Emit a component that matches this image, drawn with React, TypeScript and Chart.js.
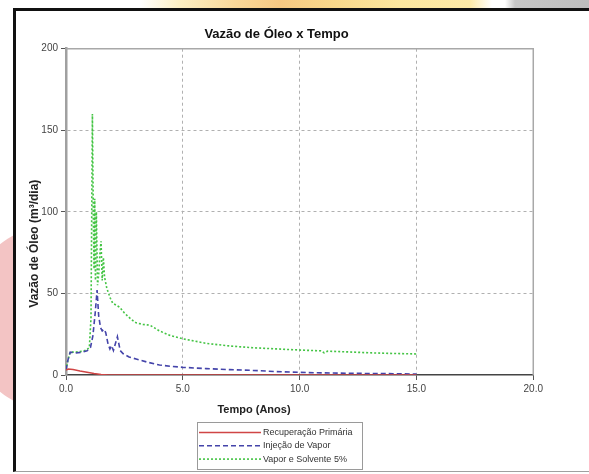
import React, { useEffect, useRef } from "react";
import { Chart, registerables } from "chart.js";

Chart.register(...registerables);

const chartTitle = "Vazão de Óleo x Tempo";
const xAxisTitle = "Tempo (Anos)";
const yAxisTitle = "Vazão de Óleo (m³/dia)";
const seriesNames = ["Recuperação Primária", "Injeção de Vapor", "Vapor e Solvente 5%"];

const timePrimaria = [0, 0.1, 0.3, 0.6, 0.9, 1.2, 1.5, 1.8, 3, 6, 10, 15];
const oilPrimaria = [3.0, 3.6, 3.3, 2.4, 1.7, 0.9, 0.3, 0.05, 0, 0, 0, 0];

const timeVapor = [0, 0.08, 0.18, 0.4, 0.7, 0.9, 1.05, 1.15, 1.25, 1.33, 1.4, 1.48, 1.55, 1.62, 1.7, 1.8, 1.88, 1.95, 2.03, 2.2, 2.32, 2.45, 2.7, 3.0, 3.5, 4.0, 4.5, 5.0, 6.0, 7.0, 8.0, 9.0, 10.0, 11.0, 12.5, 14.0, 15.0];
const oilVapor = [3, 9, 14, 13.5, 14, 14.8, 17, 24, 38, 52, 36, 29, 27, 28, 26, 19, 16, 18, 15, 23.5, 15, 13, 11, 9.8, 7.8, 6.1, 5.3, 4.7, 3.9, 3.3, 2.8, 2.1, 1.6, 1.3, 1.0, 0.8, 0.6];

const timeSolvente = [0, 0.08, 0.18, 0.4, 0.7, 0.9, 1.0, 1.07, 1.13, 1.17, 1.2, 1.23, 1.26, 1.3, 1.35, 1.4, 1.45, 1.5, 1.55, 1.6, 1.65, 1.75, 1.9, 2.0, 2.3, 2.5, 2.8, 3.0, 3.3, 3.6, 4.0, 4.5, 5.0, 6.0, 7.0, 8.0, 9.0, 10.0, 10.9, 11.05, 11.2, 12.0, 13.0, 14.0, 15.0];
const oilSolvente = [3, 9, 14, 14, 14.5, 15.5, 17, 35, 160, 98, 65, 108, 58, 100, 55, 62, 74, 82, 58, 72, 60, 53, 47, 44, 41.5, 38, 34, 32, 31, 30.5, 27, 24, 22.2, 19.4, 17.8, 16.7, 16, 15.3, 14.8, 13.6, 14.6, 14.2, 13.6, 13.2, 12.9];

const xTicksMin = 0;
const xTicksMax = 20;
const xStep = 5;
const yTicksMin = 0;
const yTicksMax = 200;
const yStep = 50;

const FONT = "'Liberation Sans', Arial, sans-serif";

const toPoints = (xs: number[], ys: number[]) => xs.map((x, i) => ({ x, y: ys[i] }));

export default function App() {
  const canvasRef = useRef<HTMLCanvasElement | null>(null);

  useEffect(() => {
    const canvas = canvasRef.current;
    if (!canvas) return;

    const overlay = {
      id: "overlay",
      beforeDatasetsDraw(chart: any) {
        const { ctx, chartArea: a } = chart;
        ctx.save();
        ctx.strokeStyle = "#a8a8a8";
        ctx.lineWidth = 1.5;
        ctx.beginPath();
        ctx.moveTo(a.left, a.top);
        ctx.lineTo(a.right, a.top);
        ctx.lineTo(a.right, a.bottom);
        ctx.stroke();
        ctx.restore();
      },
      afterDraw(chart: any) {
        const { ctx, chartArea: a } = chart;
        ctx.save();
        ctx.fillStyle = "#222";
        ctx.textAlign = "center";
        ctx.textBaseline = "middle";
        // x axis title
        ctx.font = `bold 11px ${FONT}`;
        ctx.fillText(xAxisTitle, a.left + 188, a.bottom + 35);
        // y axis title
        ctx.save();
        ctx.font = `bold 12px ${FONT}`;
        ctx.translate(a.left - 31, a.top + 195);
        ctx.rotate(-Math.PI / 2);
        ctx.fillText(yAxisTitle, 0, 0);
        ctx.restore();

        // legend
        const lx = a.left + 131;
        const ly = a.bottom + 47;
        const lw = 165;
        const lh = 47;
        ctx.strokeStyle = "#9a9a9a";
        ctx.lineWidth = 1;
        ctx.strokeRect(lx + 0.5, ly + 0.5, lw, lh);
        ctx.font = `9px ${FONT}`;
        ctx.textAlign = "left";
        chart.data.datasets.forEach((ds: any, i: number) => {
          const y = ly + 10.5 + i * 13.3;
          ctx.save();
          ctx.strokeStyle = ds.borderColor;
          ctx.lineWidth = ds.borderWidth;
          ctx.setLineDash(ds.borderDash || []);
          ctx.beginPath();
          ctx.moveTo(lx + 2, y);
          ctx.lineTo(lx + 64, y);
          ctx.stroke();
          ctx.restore();
          ctx.fillStyle = "#333";
          ctx.fillText(ds.label, lx + 66, y);
        });
        ctx.restore();
      },
    };

    const chart = new Chart(canvas, {
      type: "line",
      data: {
        datasets: [
          {
            label: seriesNames[0],
            data: toPoints(timePrimaria, oilPrimaria),
            borderColor: "#d04545",
            borderWidth: 1.5,
            borderDash: [],
            pointRadius: 0,
            tension: 0,
          },
          {
            label: seriesNames[1],
            data: toPoints(timeVapor, oilVapor),
            borderColor: "#4444aa",
            borderWidth: 1.6,
            borderDash: [5, 3],
            pointRadius: 0,
            tension: 0,
          },
          {
            label: seriesNames[2],
            data: toPoints(timeSolvente, oilSolvente),
            borderColor: "#44c444",
            borderWidth: 1.6,
            borderDash: [2, 2],
            pointRadius: 0,
            tension: 0,
          },
        ],
      },
      options: {
        animation: false,
        responsive: false,
        events: [],
        layout: { padding: { left: 0, right: 9, top: 0, bottom: 0 } },
        plugins: {
          legend: { display: false },
          tooltip: { enabled: false },
          title: {
            display: true,
            text: chartTitle,
            color: "#111",
            font: { family: FONT, size: 13, weight: "bold", lineHeight: 1.2 },
            padding: { top: 14.2, bottom: 6.9 },
          },
        },
        scales: {
          x: {
            type: "linear",
            min: xTicksMin,
            max: xTicksMax,
            afterFit: (s: any) => {
              s.height = 95;
            },
            ticks: {
              stepSize: xStep,
              color: "#444",
              font: { family: FONT, size: 10 },
              padding: 3,
              maxRotation: 0,
              callback: (v: any) => Number(v).toFixed(1),
            },
            grid: {
              color: (c: any) =>
                c.tick && (c.tick.value === xTicksMin || c.tick.value === xTicksMax) ? "rgba(0,0,0,0)" : "#b0b0b0",
              lineWidth: 1,
              tickColor: "#555",
              tickLength: 5,
              tickWidth: 1,
              tickBorderDash: [],
            },
            border: { display: true, color: "#444", width: 1.5, dash: [3, 3] },
          },
          y: {
            type: "linear",
            min: yTicksMin,
            max: yTicksMax,
            afterFit: (s: any) => {
              s.width = 50;
            },
            ticks: {
              stepSize: yStep,
              color: "#444",
              font: { family: FONT, size: 10 },
              padding: 3,
              callback: (v: any) => String(v),
            },
            grid: {
              color: (c: any) =>
                c.tick && (c.tick.value === yTicksMin || c.tick.value === yTicksMax) ? "rgba(0,0,0,0)" : "#b0b0b0",
              lineWidth: 1,
              tickColor: "#555",
              tickLength: 5,
              tickWidth: 1,
              tickBorderDash: [],
            },
            border: { display: true, color: "#a0a0a0", width: 2.5, dash: [3, 3] },
          },
        },
      },
      plugins: [overlay],
    } as any);

    return () => chart.destroy();
  }, []);

  return (
    <div style={{ position: "fixed", left: 0, top: 0, width: 589, height: 474, overflow: "hidden", background: "#fff" }}>
      <div
        style={{
          position: "absolute",
          left: 0,
          top: 0,
          width: 589,
          height: 9,
          background:
            "linear-gradient(to right, #ffffff 0px, #ffffff 140px, #fcefc4 180px, #f9d89a 235px, #f7c983 280px, #f9d98c 335px, #fce7a0 400px, #fdeaa8 470px, #ffffff 492px, #ffffff 505px, #c6c6c6 515px, #bdbdbd 589px)",
        }}
      />
      <div
        style={{
          position: "absolute",
          left: -35,
          top: 223,
          width: 190,
          height: 190,
          borderRadius: "50%",
          background: "#f3c4c4",
        }}
      />
      <div
        style={{
          position: "absolute",
          left: 13,
          top: 8,
          width: 576,
          height: 464,
          boxSizing: "border-box",
          borderTop: "3px solid #111",
          borderLeft: "3px solid #111",
          borderBottom: "1px solid #a0a0a0",
          background: "#fff",
        }}
      />
      <canvas
        ref={canvasRef}
        width={530}
        height={458}
        style={{ position: "absolute", left: 16, top: 12, width: 530, height: 458 }}
      />
    </div>
  );
}
